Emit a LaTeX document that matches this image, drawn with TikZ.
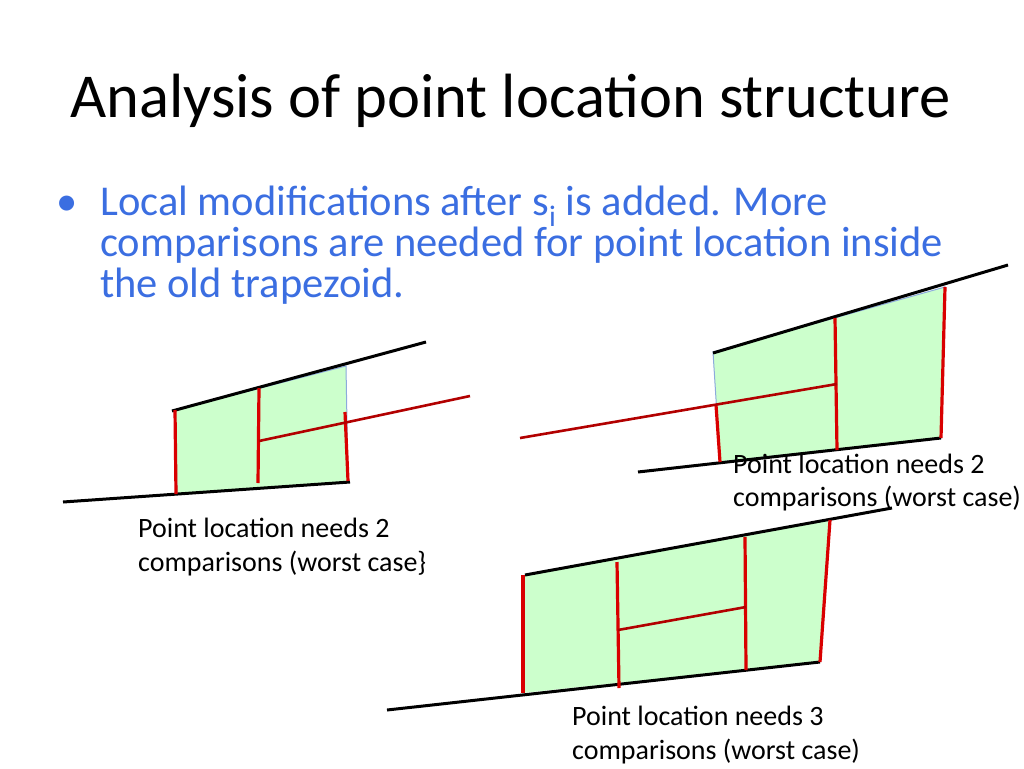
\documentclass[tikz,border=0pt]{standalone}
\usepackage{fontspec}
\setmainfont{Carlito}
\begin{document}
\begin{tikzpicture}[x=1pt,y=-1pt,
  blk/.style={black,line width=3pt},
  rd/.style={red!85!black,line width=3.2pt},
  rdl/.style={red!70!black,line width=2.6pt},
  fillz/.style={fill={rgb,255:red,204;green,255;blue,204},draw={rgb,255:red,140;green,170;blue,220},line width=1pt},
  lab/.style={anchor=base west,font=\fontsize{28}{30}\selectfont,inner sep=0pt},
  bul/.style={anchor=base west,text=bl,font=\fontsize{42.5}{45}\selectfont,inner sep=0pt}]
\useasboundingbox (0,0) rectangle (1024,768);
\definecolor{bl}{RGB}{59,110,225}
\node[anchor=base west,font=\fontsize{62.5}{66}\selectfont,inner sep=0pt] (title) at (70,117) {Analysis of point location structure};
\node[bul] (b) at (56,215) {•};
\node[bul] (t1) at (100,215) {Local modifications after s\textsubscript{i} is added. More};
\node[bul] (t2) at (100,256) {comparisons are needed for point location inside};
\node[bul] (t3) at (100,297) {the old trapezoid.};
% shape 1
\fill[fillz] (175,410)--(346,366)--(348,482)--(177,494)--cycle;
\draw[blk] (172,411)--(426,342);
\draw[blk] (63,502)--(350,482);
\draw[rd] (175,410)--(176,494);
\draw[rd] (259,388)--(258,483);
\draw[rd] (345,412)--(348,481);
\draw[rdl] (259,441)--(470,396);
% shape 2
\fill[fillz] (713,352)--(945,287)--(941,438)--(720,462)--cycle;
\draw[blk] (713,353)--(1008,265);
\draw[blk] (638,472)--(941,438);
\draw[rd] (945,287)--(941,438);
\draw[rd] (835,318)--(837,450);
\draw[rd] (716,405)--(720,462);
\draw[rdl] (520,438)--(837,384);
% shape 3
\fill[fill={rgb,255:red,204;green,255;blue,204}] (525,575)--(830,520)--(820,662)--(522,693)--cycle;
\draw[blk] (525,575)--(892,508);
\draw[blk] (387,710)--(820,662);
\draw[rd] (523,575)--(523,693);
\draw[rd] (617,562)--(619,688);
\draw[rd] (745,537)--(746,670);
\draw[rd] (830,520)--(820,662);
\draw[rdl] (618,630)--(746,607);
% labels
\node[lab] (l1a) at (138,537) {Point location needs 2};
\node[lab] (l1b) at (138,571) {comparisons (worst case\}};
\node[lab] (l2a) at (733,473) {Point location needs 2};
\node[lab] (l2b) at (733,506) {comparisons (worst case)};
\node[lab] (l3a) at (572,725) {Point location needs 3};
\node[lab] (l3b) at (572,759) {comparisons (worst case)};
\end{tikzpicture}
\end{document}
